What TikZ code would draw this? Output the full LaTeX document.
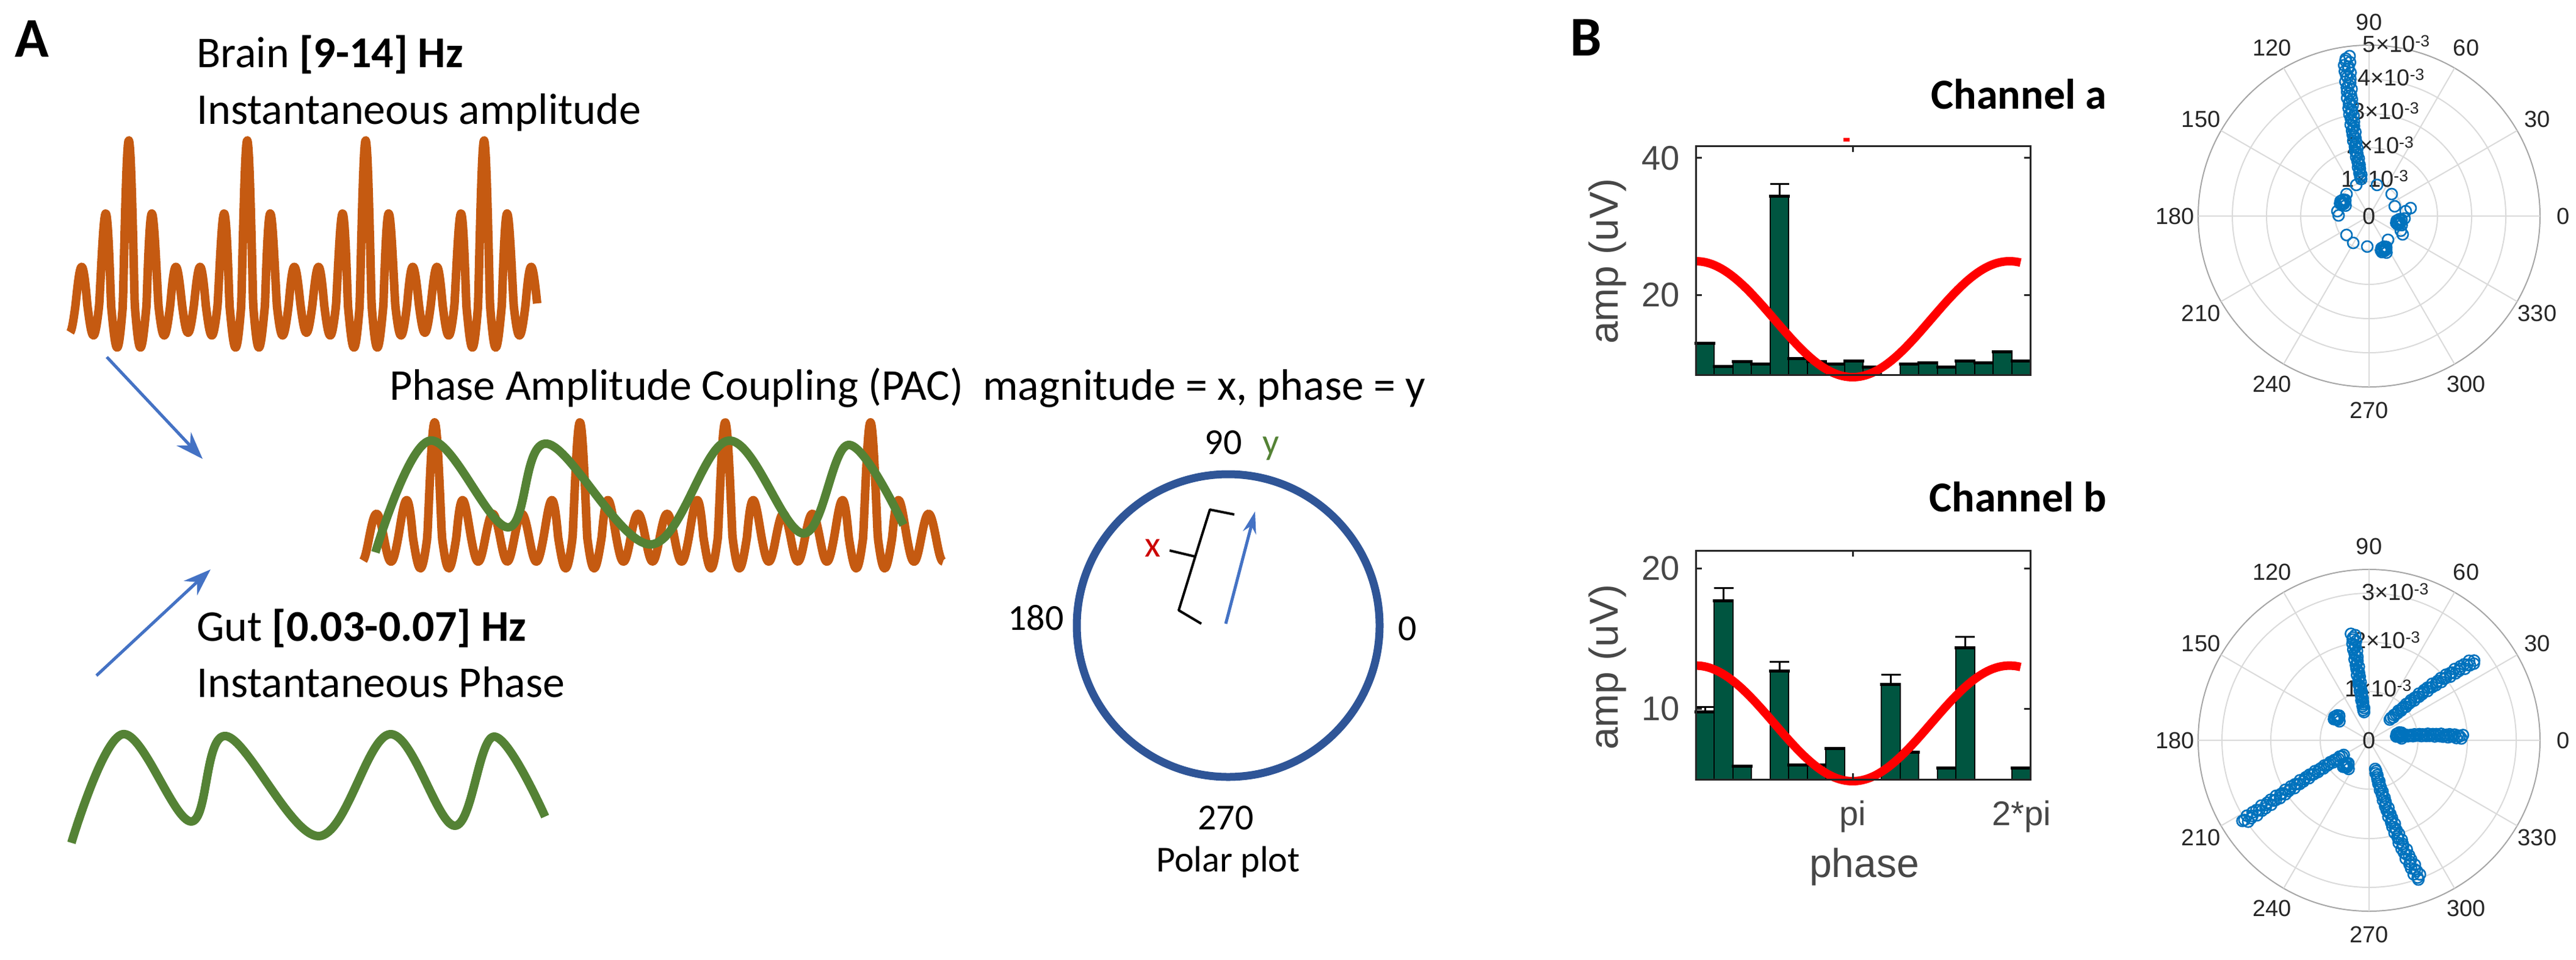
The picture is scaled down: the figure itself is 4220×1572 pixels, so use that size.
\documentclass[tikz,border=0pt]{standalone}
\usepackage{fontspec}
\setmainfont{Carlito}
\newfontfamily\plotfont{Liberation Sans}
\usetikzlibrary{arrows.meta,calc}
\definecolor{orw}{HTML}{C55A11}
\definecolor{grw}{HTML}{548235}
\definecolor{bla}{HTML}{4472C4}
\definecolor{cir}{HTML}{2F5597}
\definecolor{bar}{HTML}{005540}
\definecolor{mkb}{HTML}{0072BD}
\definecolor{axg}{HTML}{262626}
\definecolor{grd}{HTML}{DADADA}
\newcommand\mkline[5]{\foreach \k in {0,...,#5}{\pgfmathsetmacro\rr{#1+(#3-#1)*\k/#5}\pgfmathsetmacro\aa{#2+(#4-#2)*\k/#5+1.2*sin(\k*137)}\draw[mk] (\aa:\rr) circle[radius=9];}}
\newcommand\mkblob[2]{\foreach \k in {0,...,9}{\draw[mk] ($(#1,#2)+(\k*97:{6*sin(\k*53)})$) circle[radius=9];}}
\begin{document}
\begin{tikzpicture}[x=1pt,y=-1pt,
  txt/.style={font=\fontsize{72}{86}\selectfont,inner sep=0,anchor=base west},
  lbl/.style={font=\fontsize{60}{72}\selectfont,inner sep=0},
  ptxt/.style={font=\plotfont\fontsize{56}{66}\selectfont,text=axg!85,inner sep=0},
  pol/.style={font=\plotfont\fontsize{38}{46}\selectfont,text=axg,inner sep=0},
  wave/.style={line width=14,line join=round},
  arr/.style={bla,line width=5,-{Stealth[length=45,width=32]}},
  mk/.style={mkb,line width=2.6},
  declare function={
    bd(\x)=\x-211-194*round((\x-211)/194);
    bE(\x)=55+215*exp(-bd(\x)*bd(\x)/1800);
    bc(\x)=cos(9.2784*(\x-211));
    brain(\x)=bc(\x)>0 ? 500-bE(\x)*bc(\x) : 500-bc(\x)*(45+0.14*(bE(\x)-55));
    pd(\x)=\x-712-238*round((\x-712)/238);
    pE(\x)=38+150*exp(-pd(\x)*pd(\x)/1152);
    pc(\x)=cos(7.563*(\x-712));
    pac(\x)=pc(\x)>0 ? 880-pE(\x)*pc(\x) : 880-pc(\x)*(40+0.12*(pE(\x)-38));
  }]
\useasboundingbox (0,0) rectangle (4220,1572);
% ---------- A ----------
\node[font=\bfseries\fontsize{92}{100}\selectfont,inner sep=0] (A) at (52,64) {A};
\node[txt] (brain) at (322,110) {Brain \textbf{[9-14] Hz}};
\node[txt] (brain2) at (322,203) {Instantaneous amplitude};
\draw[wave,orw] plot[domain=115:880,samples=900] (\x,{brain(\x)});
\node[txt] (pac) at (638,655) {Phase Amplitude Coupling (PAC)\ \ magnitude = x, phase = y};
\draw[wave,orw] plot[domain=595:1545,samples=1000] (\x,{pac(\x)});
\draw[wave,grw] plot[smooth,tension=0.6] coordinates {(615,905) (704,722) (832,864) (896,727) (1066,892) (1194,722) (1316,874) (1390,729) (1480,860)};
\node[txt] (gut) at (322,1050) {Gut \textbf{[0.03-0.07] Hz}};
\node[txt] (gut2) at (322,1142) {Instantaneous Phase};
\draw[wave,grw] plot[smooth,tension=0.6] coordinates {(117,1381) (201,1203) (313,1346) (370,1206) (522,1370) (639,1203) (745,1353) (809,1207) (893,1338)};
\coordinate (a1s) at (175,585); \coordinate (a1e) at (332,752);
\coordinate (a2s) at (158,1107); \coordinate (a2e) at (345,933);
\draw[arr] (a1s) -- (a1e);
\draw[arr] (a2s) -- (a2e);
% schematic polar
\node[draw=cir,line width=13,circle,minimum size=496,inner sep=0] (pc) at (2012,1025) {};
\node[lbl] (l90) at (2004,725) {90};
\node[lbl,text=grw] (ly) at (2082,735) {y};
\node[lbl] (l180) at (1697,1012) {180};
\node[lbl] (l0) at (2306,1030) {0};
\node[lbl] (l270) at (2008,1340) {270};
\node[lbl] (lpp) at (2012,1412) {Polar plot};
\node[lbl,text=red!80!black] (lx) at (1888,898) {x};
\draw[line width=4,line join=round] (2022,843) -- (1982,835) -- (1958,912) -- (1916,902);
\draw[line width=4,line join=round] (1958,912) -- (1931,1000) -- (1968,1022);
\coordinate (vs) at (2008,1022); \coordinate (ve) at (2056,838);
\draw[bla,line width=5,-{Stealth[length=36,width=22]}] (vs) -- (ve);
% ---------- B ----------
\node[font=\bfseries\fontsize{92}{100}\selectfont,inner sep=0] (B) at (2598,62) {B};
\node[font=\bfseries\fontsize{70}{80}\selectfont,inner sep=0,anchor=base east] (cha) at (3451,178) {Channel a};
\node[font=\bfseries\fontsize{70}{80}\selectfont,inner sep=0,anchor=base east] (chb) at (3451,838) {Channel b};
% plot a
\foreach \i/\t in {1/562,2/600,3/592.4,4/596.4,5/321.9,6/587.9,7/592.4,8/596.4,9/591,10/601,12/596.4,13/594.6,14/601,15/591,16/594.6,17/576.8,18/591}{
  \pgfmathsetmacro\xl{2778+(\i-1)*30.44}
  \draw[fill=bar,draw=black,line width=2] (\xl,614) rectangle ({\xl+30.44},\t);
  \draw[line width=5] ({\xl-2},\t) -- ({\xl+32},\t);}
\draw[line width=3] (2915.2,321.9) -- (2915.2,301.8) (2900,301.8) -- (2931,301.8);
\draw[red,line width=14] plot[domain=2778:3310,samples=120] (\x,{523-95*cos(0.7004*(\x-2778))});
\draw[axg,line width=3] (2778,239) rectangle (3326,614);
\draw[axg,line width=3] (2778,258.6) -- +(10,0) (2778,483) -- +(10,0) (3326,258.6) -- +(-10,0) (3326,483) -- +(-10,0) (3035,239) -- +(0,10);
\fill[red] (3020,226) rectangle (3030,232);
\node[ptxt,anchor=east] (ya40) at (2752,259) {40};
\node[ptxt,anchor=east] (ya20) at (2752,483) {20};
\node[ptxt,font=\plotfont\fontsize{66}{76}\selectfont,rotate=90] (yla) at (2633,428) {amp (uV)};
% plot b
\foreach \i/\t in {1/1166,2/984.5,3/1255.7,5/1099,6/1253,7/1253,8/1226,11/1121,12/1232.5,14/1258.7,15/1061.8,18/1258.7}{
  \pgfmathsetmacro\xl{2778+(\i-1)*30.44}
  \draw[fill=bar,draw=black,line width=2] (\xl,1277) rectangle ({\xl+30.44},\t);
  \draw[line width=5] ({\xl-2},\t) -- ({\xl+32},\t);}
\foreach \i/\t/\e in {1/1166/1158,2/984.5/963,5/1099/1084,11/1121/1105,15/1061.8/1043.6}{
  \pgfmathsetmacro\xc{2778+(\i-0.5)*30.44}
  \draw[line width=3] (\xc,\t) -- (\xc,\e) ({\xc-16},\e) -- ({\xc+16},\e);}
\draw[red,line width=14] plot[domain=2778:3310,samples=120] (\x,{1185.3-94.7*cos(0.7004*(\x-2778))});
\draw[axg,line width=3] (2778,902) rectangle (3326,1277);
\draw[axg,line width=3] (2778,931.5) -- +(10,0) (2778,1161) -- +(10,0) (3326,931.5) -- +(-10,0) (3326,1161) -- +(-10,0) (3035,902) -- +(0,10) (3035,1277) -- +(0,-10);
\node[ptxt,anchor=east] (yb20) at (2752,931) {20};
\node[ptxt,anchor=east] (yb10) at (2752,1161) {10};
\node[ptxt,font=\plotfont\fontsize{66}{76}\selectfont,rotate=90] (ylb) at (2633,1093) {amp (uV)};
\node[ptxt] (xpi) at (3035,1338) {pi};
\node[ptxt] (x2pi) at (3312,1338) {2*pi};
\node[ptxt,font=\plotfont\fontsize{66}{76}\selectfont] (xph) at (3054,1420) {phase};
% polar a
\begin{scope}[shift={(3881,354)},yscale=-1]
  \foreach \r in {56,112,168,224} \draw[grd,line width=2] (0,0) circle[radius=\r];
  \draw[black!35,line width=2] (0,0) circle[radius=280];
  \foreach \a in {0,30,...,330} {\draw[grd,line width=2] (0,0) -- (\a:280); \node[pol] at (\a:318) {\a};}
  \foreach \n/\r in {1/56,2/112,3/168,4/224,5/280} \node[pol,anchor=center] at (81:{\r+6}) {\n\texttimes10\textsuperscript{-3}};
  \node[pol] at (0,0) {0};
  \mkline{62}{102}{264}{98}{60}
  \foreach \p in {(13,51),(37,36),(42,16),(68,13),(52,-24),(31,-39),(21,-59),(-3,-50),(-26,-44),(-37,-31),(-50,1),(-52,8),(-37,36),(-21,51),(58,-4),(47,-14),(55,-30),(60,8),(-45,20),(28,-55)} \draw[mk] \p circle[radius=9];
  \mkblob{50}{-10}
  \mkblob{-42}{22}
  \mkblob{25}{-55}
\end{scope}
% polar b
\begin{scope}[shift={(3881,1213)},yscale=-1]
  \foreach \r in {80,161,241} \draw[grd,line width=2] (0,0) circle[radius=\r];
  \draw[black!35,line width=2] (0,0) circle[radius=280];
  \foreach \a in {0,30,...,330} {\draw[grd,line width=2] (0,0) -- (\a:280); \node[pol] at (\a:318) {\a};}
  \foreach \n/\r in {1/80,2/161,3/241} \node[pol,anchor=center] at (80:{\r+6}) {\n\texttimes10\textsuperscript{-3}};
  \node[pol] at (0,0) {0};
  \mkline{47}{100}{177}{98.5}{40}
  \mkline{48}{45}{216}{37}{50}
  \mkline{45}{8}{154}{2}{40}
  \mkline{48}{210}{246}{213}{55}
  \mkline{48}{282}{242}{290}{55}
  \mkblob{-52}{36}
  \mkblob{-37}{-42}
  \mkblob{50}{8}
\end{scope}
\end{tikzpicture}
\end{document}
